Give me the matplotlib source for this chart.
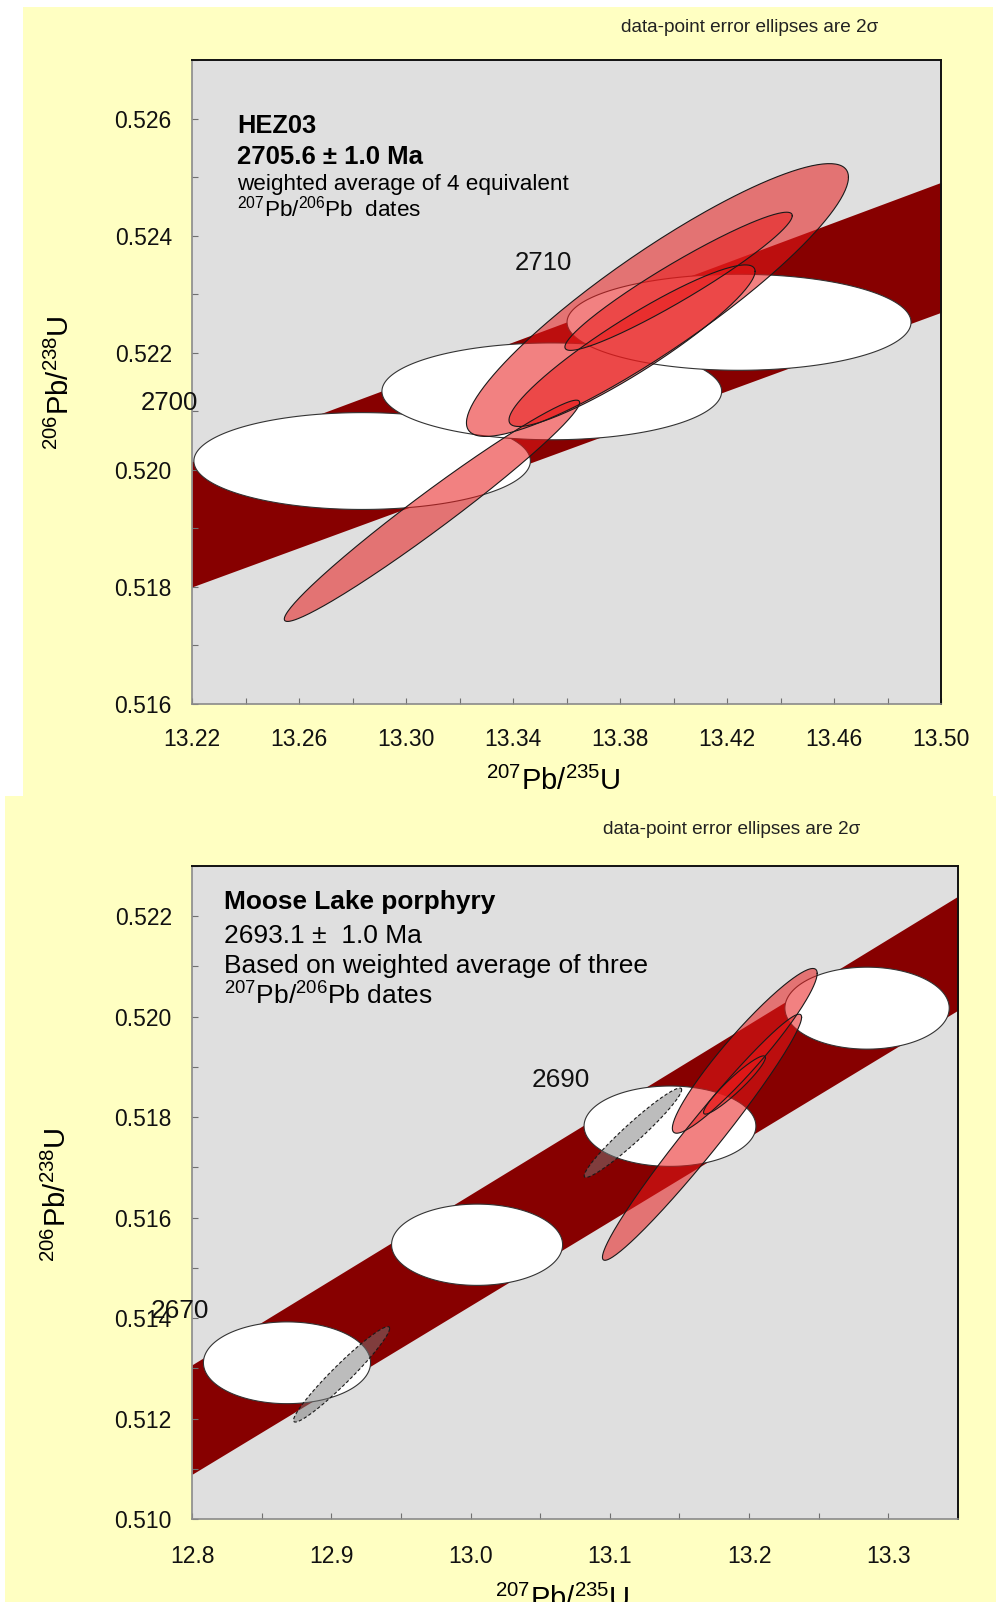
import numpy as np
import matplotlib
matplotlib.use("Agg")
import matplotlib.pyplot as plt
from matplotlib.patches import Rectangle
from matplotlib.ticker import MultipleLocator, FixedLocator, FormatStrFormatter

plt.rcParams['font.family'] = ['Liberation Sans', 'DejaVu Sans']
plt.rcParams['mathtext.fontset'] = 'custom'
plt.rcParams['mathtext.rm'] = 'Liberation Sans'
plt.rcParams['mathtext.default'] = 'regular'

# ---------------- HEZ03 ----------------
hez_xticks = [13.22, 13.26, 13.30, 13.34, 13.38, 13.42, 13.46, 13.50]
hez_yticks = [0.516, 0.518, 0.520, 0.522, 0.524, 0.526]

hez_band_x = [13.22, 13.50]
hez_band_upper = [0.52014, 0.52491]
hez_band_lower = [0.51800, 0.52269]

# concordia age-marker ellipses (decay-constant uncertainty)
hez_age_x = [13.2836, 13.3545, 13.4245]
hez_age_y = [0.52015, 0.52134, 0.52252]
hez_age_ex = [0.0629, 0.0635, 0.0643]
hez_age_ey = [0.000827, 0.000827, 0.000820]

# analyses: 207Pb/235U, 206Pb/238U, 2-sigma errors, error correlation
hez_x = [13.3940, 13.3845, 13.4019, 13.3097]
hez_y = [0.52290, 0.52212, 0.52322, 0.51930]
hez_ex = [0.0714, 0.0460, 0.0425, 0.0552]
hez_ey = [0.00233, 0.00138, 0.00118, 0.00189]
hez_rho = [0.90, 0.92, 0.95, 0.978]

# ---------------- Moose Lake porphyry ----------------
ml_xticks = [12.8, 12.9, 13.0, 13.1, 13.2, 13.3]
ml_yticks = [0.510, 0.512, 0.514, 0.516, 0.518, 0.520, 0.522]

ml_band_x = [12.80, 13.35]
ml_band_upper = [0.51307, 0.52240]
ml_band_lower = [0.51089, 0.52013]

ml_age_x = [12.8682, 13.0047, 13.1432, 13.2847]
ml_age_y = [0.51311, 0.51546, 0.51782, 0.52017]
ml_age_ex = [0.0600, 0.0614, 0.0617, 0.0590]
ml_age_ey = [0.000814, 0.000809, 0.000800, 0.000816]

ml_x = [13.1662, 13.1969, 13.1895]
ml_y = [0.51760, 0.51932, 0.51864]
ml_ex = [0.0715, 0.0520, 0.0222]
ml_ey = [0.00245, 0.00164, 0.00058]
ml_rho = [0.975, 0.94, 0.94]

# analyses excluded from the mean
ml_rej_x = [12.9074, 13.1166]
ml_rej_y = [0.51288, 0.51769]
ml_rej_ex = [0.0345, 0.0350]
ml_rej_ey = [0.00095, 0.00089]
ml_rej_rho = [0.962, 0.962]

W, H = 996, 1602
YELLOW = '#FFFFC2'
PLOTBG = '#DFDFDF'
BAND = '#870000'
RED = '#E81A1A'


def fx(px):
    return px / W


def fy(py):
    return 1 - py / H


def ellipse_xy(cx, cy, ex, ey, rho, n=240):
    t = np.linspace(0, 2 * np.pi, n)
    x = cx + ex * np.cos(t)
    y = cy + ey * (rho * np.cos(t) + np.sqrt(1 - rho ** 2) * np.sin(t))
    return x, y


def style_axes(ax, xlim, ylim, xticks, xminor, yticks, yminor, xfmt, yfmt, xpad, ypad):
    ax.set_facecolor(PLOTBG)
    ax.set_xlim(*xlim)
    ax.set_ylim(*ylim)
    ax.xaxis.set_major_locator(FixedLocator(xticks))
    ax.xaxis.set_minor_locator(MultipleLocator(xminor))
    ax.yaxis.set_major_locator(FixedLocator(yticks))
    ax.yaxis.set_minor_locator(MultipleLocator(yminor))
    ax.xaxis.set_major_formatter(FormatStrFormatter(xfmt))
    ax.yaxis.set_major_formatter(FormatStrFormatter(yfmt))
    ax.tick_params(which='both', direction='in', length=4, width=0.8,
                   color='#707070', labelsize=16.5, labelcolor='#111111')
    ax.tick_params(axis='x', which='major', pad=xpad)
    ax.tick_params(axis='y', which='major', pad=ypad)
    for s in ('top', 'right'):
        ax.spines[s].set_color('#111111')
        ax.spines[s].set_linewidth(1.4)
    for s in ('bottom', 'left'):
        ax.spines[s].set_color('#8a8a8a')
        ax.spines[s].set_linewidth(1.2)


def draw_panel(ax, bx, bu, bl, ax_, ay_, aex, aey, dx, dy, dex, dey, drho):
    ax.fill_between(bx, bl, bu, color=BAND, lw=0, zorder=1)
    for cx, cy, ex, ey in zip(ax_, ay_, aex, aey):
        x, y = ellipse_xy(cx, cy, ex, ey, 0.0)
        ax.fill(x, y, facecolor='white', edgecolor='#333333', lw=0.8, zorder=2)
    for cx, cy, ex, ey, r in zip(dx, dy, dex, dey, drho):
        x, y = ellipse_xy(cx, cy, ex, ey, r)
        ax.fill(x, y, facecolor=RED, alpha=0.55, lw=0, zorder=3)
        ax.plot(x, y, color='#1a1a1a', lw=0.8, zorder=4)


fig = plt.figure(figsize=(W / 100, H / 100), dpi=100)
fig.patch.set_facecolor('white')
fig.patches.append(Rectangle((fx(23), fy(796)), fx(993) - fx(23), fy(7) - fy(796),
                             transform=fig.transFigure, facecolor=YELLOW,
                             edgecolor='none', zorder=-10))
fig.patches.append(Rectangle((fx(5), 0), fx(996) - fx(5), fy(796),
                             transform=fig.transFigure, facecolor=YELLOW,
                             edgecolor='none', zorder=-10))

# ---- top panel ----
ax1 = fig.add_axes([fx(192), fy(704), fx(941) - fx(192), fy(60) - fy(704)])
style_axes(ax1, (13.22, 13.50), (0.516, 0.527), hez_xticks, 0.02, hez_yticks, 0.001,
           '%.2f', '%.3f', 17.5, 14.5)
draw_panel(ax1, hez_band_x, hez_band_upper, hez_band_lower,
           hez_age_x, hez_age_y, hez_age_ex, hez_age_ey,
           hez_x, hez_y, hez_ex, hez_ey, hez_rho)

fig.text(fx(621), fy(28), 'data-point error ellipses are 2σ', fontsize=13.7,
         color='#222222', ha='left', va='center')
fig.text(fx(237), fy(132.7), 'HEZ03', fontsize=18.3, fontweight='bold', va='baseline')
fig.text(fx(237), fy(164), '2705.6 ± 1.0 Ma', fontsize=18.5, fontweight='bold', va='baseline')
fig.text(fx(237), fy(190), 'weighted average of 4 equivalent', fontsize=16.2, va='baseline')
fig.text(fx(237), fy(216), '$^{207}$Pb/$^{206}$Pb  dates', fontsize=16.2, va='baseline')
fig.text(fx(543), fy(263.5), '2710', fontsize=18.5, ha='center', va='center', color='#111111')
fig.text(fx(169.5), fy(402.5), '2700', fontsize=18.5, ha='center', va='center', color='#111111')
fig.text(fx(553), fy(790), '$^{207}$Pb/$^{235}$U', fontsize=21, ha='center', va='baseline')
fig.text(fx(60), fy(383), '$^{206}$Pb/$^{238}$U', fontsize=21, ha='center', va='center',
         rotation=90)

# ---- bottom panel ----
ax2 = fig.add_axes([fx(192), fy(1519), fx(958) - fx(192), fy(866) - fy(1519)])
style_axes(ax2, (12.8, 13.35), (0.510, 0.523), ml_xticks, 0.05, ml_yticks, 0.001,
           '%.1f', '%.3f', 18.5, 14.5)
draw_panel(ax2, ml_band_x, ml_band_upper, ml_band_lower,
           ml_age_x, ml_age_y, ml_age_ex, ml_age_ey,
           ml_x, ml_y, ml_ex, ml_ey, ml_rho)
for cx, cy, ex, ey, r in zip(ml_rej_x, ml_rej_y, ml_rej_ex, ml_rej_ey, ml_rej_rho):
    x, y = ellipse_xy(cx, cy, ex, ey, r)
    ax2.fill(x, y, facecolor='#7a7a7a', alpha=0.5, lw=0, zorder=3)
    ax2.plot(x, y, color='#1a1a1a', lw=0.8, ls=(0, (3, 2)), zorder=4)

fig.text(fx(603), fy(829), 'data-point error ellipses are 2σ', fontsize=13.7,
         color='#222222', ha='left', va='center')
fig.text(fx(224), fy(909), 'Moose Lake porphyry', fontsize=18.9, fontweight='bold', va='baseline')
fig.text(fx(224), fy(943), '2693.1 ±  1.0 Ma', fontsize=19, va='baseline')
fig.text(fx(224), fy(973.5), 'Based on weighted average of three', fontsize=19, va='baseline')
fig.text(fx(224), fy(1005), '$^{207}$Pb/$^{206}$Pb dates', fontsize=19, va='baseline')
fig.text(fx(560.5), fy(1080), '2690', fontsize=18.8, ha='center', va='center', color='#111111')
fig.text(fx(179.5), fy(1310.5), '2670', fontsize=18.8, ha='center', va='center', color='#111111')
fig.text(fx(562), fy(1608), '$^{207}$Pb/$^{235}$U', fontsize=21, ha='center', va='baseline')
fig.text(fx(57), fy(1195), '$^{206}$Pb/$^{238}$U', fontsize=21, ha='center', va='center',
         rotation=90)

fig.savefig('out.png', dpi=100)
